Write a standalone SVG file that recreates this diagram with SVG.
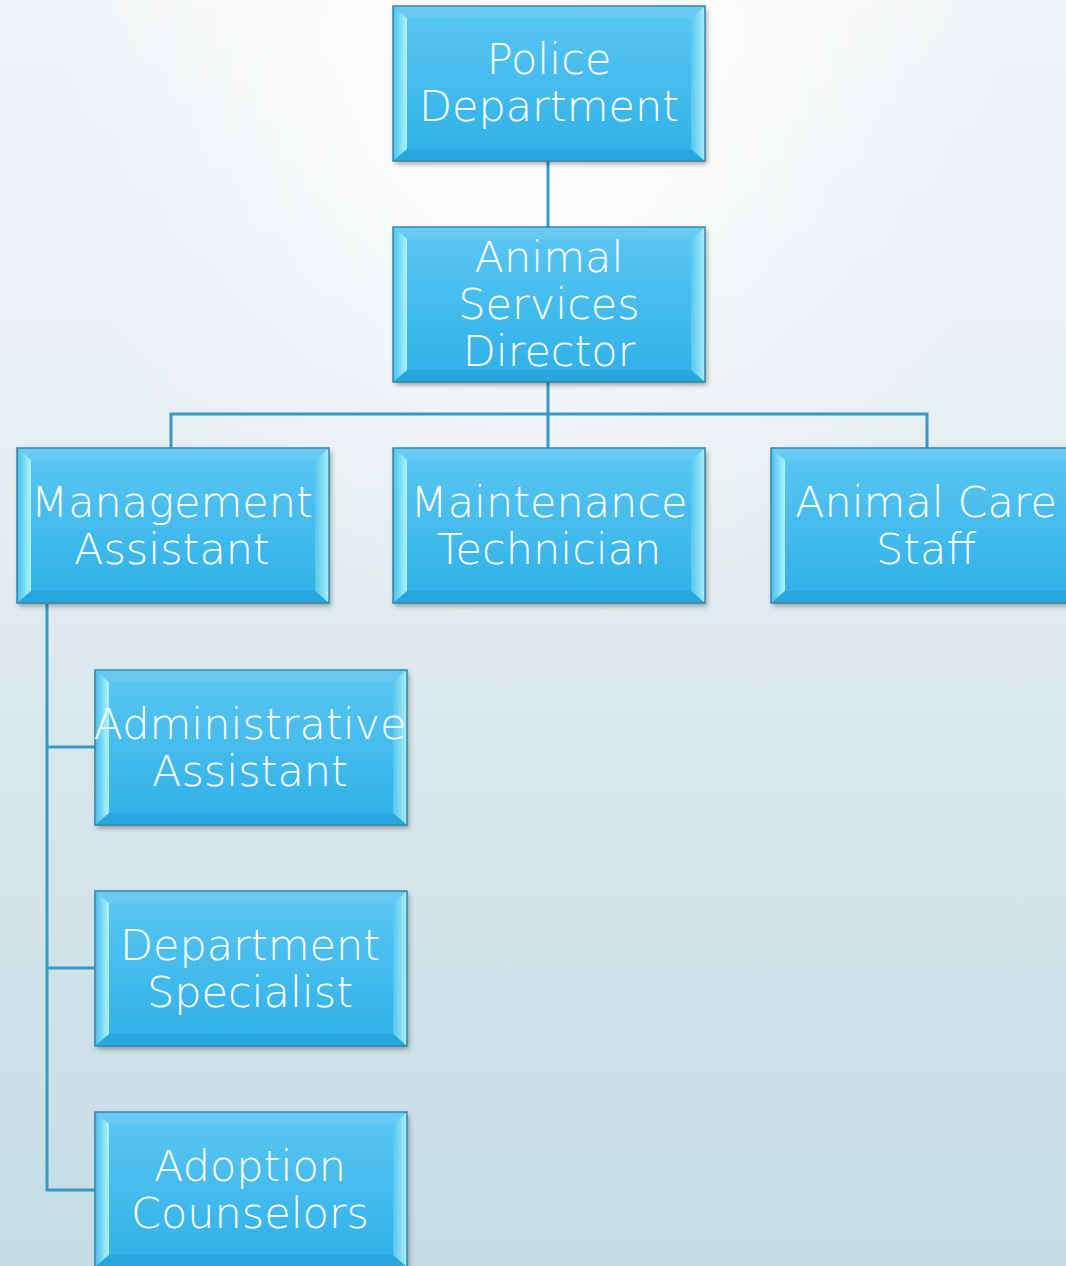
<svg xmlns="http://www.w3.org/2000/svg" xmlns:xlink="http://www.w3.org/1999/xlink" width="1066" height="1266" viewBox="0 0 1066 1266">
  <defs>
    <linearGradient id="bg" x1="0" y1="0" x2="0" y2="1">
      <stop offset="0" stop-color="#f2f5f7"/>
      <stop offset="0.35" stop-color="#e6eef2"/>
      <stop offset="1" stop-color="#c4dce4"/>
    </linearGradient>
    <radialGradient id="bgGlow" cx="0.5" cy="0.05" r="0.45">
      <stop offset="0" stop-color="#ffffff" stop-opacity="1"/>
      <stop offset="1" stop-color="#ffffff" stop-opacity="0"/>
    </radialGradient>
    <linearGradient id="face" x1="0" y1="0" x2="0" y2="1">
      <stop offset="0" stop-color="#5cc7f2"/>
      <stop offset="1" stop-color="#2eb0e8"/>
    </linearGradient>
    <linearGradient id="leftBev" x1="0" y1="0" x2="1" y2="0">
      <stop offset="0" stop-color="#48bdec"/>
      <stop offset="0.7" stop-color="#8ee6fa"/>
      <stop offset="1" stop-color="#b0f4fd"/>
    </linearGradient>
    <linearGradient id="rightBev" x1="0" y1="0" x2="1" y2="0">
      <stop offset="0" stop-color="#58c6f0"/>
      <stop offset="1" stop-color="#a6f0fc"/>
    </linearGradient>
    <filter id="shadow" x="-10%" y="-10%" width="125%" height="130%">
      <feDropShadow dx="2" dy="3" stdDeviation="2.5" flood-color="#000" flood-opacity="0.35"/>
    </filter>
    <g id="box">
      <rect x="0" y="0" width="312" height="155" fill="url(#face)" filter="url(#shadow)"/>
      <polygon points="0,0 312,0 298,12 14,12" fill="#ffffff" opacity="0.08"/>
      <polygon points="0,0 14,12 14,143 0,155" fill="url(#leftBev)"/>
      <polygon points="312,0 312,155 298,143 298,12" fill="url(#rightBev)"/>
      <polygon points="0,155 14,143 298,143 312,155" fill="#1b8fc6" opacity="0.3"/>
      <rect x="0" y="0" width="312" height="155" fill="none" stroke="#3486ac" stroke-width="1.5"/>
    </g>
    <style>
      .lbl { font-family: "DejaVu Sans", "Liberation Sans", sans-serif; font-weight: 200; font-size: 43px; fill: #ffffff; text-anchor: middle; }
      .conn { stroke: #3799c4; stroke-width: 3; fill: none; }
    </style>
  </defs>

  <rect x="0" y="0" width="1066" height="1266" fill="url(#bg)"/>
  <rect x="0" y="0" width="1066" height="1266" fill="url(#bgGlow)"/>

  <g id="connectors">
    <line class="conn" x1="548" y1="161" x2="548" y2="227"/>
    <line class="conn" x1="548" y1="382" x2="548" y2="448"/>
    <polyline class="conn" points="171,448 171,414 927,414 927,448"/>
    <polyline class="conn" points="47,604 47,1190 95,1190"/>
    <line class="conn" x1="47" y1="747" x2="95" y2="747"/>
    <line class="conn" x1="47" y1="968" x2="95" y2="968"/>
  </g>

  <g id="police" transform="translate(393,6)">
    <use xlink:href="#box"/>
    <text class="lbl" x="156" y="68">Police</text>
    <text class="lbl" x="156" y="115">Department</text>
  </g>

  <g id="director" transform="translate(393,227)">
    <use xlink:href="#box"/>
    <text class="lbl" x="156" y="45">Animal</text>
    <text class="lbl" x="156" y="92">Services</text>
    <text class="lbl" x="156" y="139">Director</text>
  </g>

  <g id="management" transform="translate(17,448)">
    <use xlink:href="#box"/>
    <text class="lbl" x="155" y="69">Management</text>
    <text class="lbl" x="155" y="116">Assistant</text>
  </g>

  <g id="maintenance" transform="translate(393,448)">
    <use xlink:href="#box"/>
    <text class="lbl" x="156" y="69">Maintenance</text>
    <text class="lbl" x="156" y="116">Technician</text>
  </g>

  <g id="animalcare" transform="translate(771,448)">
    <use xlink:href="#box"/>
    <text class="lbl" x="155" y="69">Animal Care</text>
    <text class="lbl" x="155" y="116">Staff</text>
  </g>

  <g id="admin" transform="translate(95,670)">
    <use xlink:href="#box"/>
    <text class="lbl" x="155" y="69">Administrative</text>
    <text class="lbl" x="155" y="116">Assistant</text>
  </g>

  <g id="specialist" transform="translate(95,891)">
    <use xlink:href="#box"/>
    <text class="lbl" x="155" y="69">Department</text>
    <text class="lbl" x="155" y="116">Specialist</text>
  </g>

  <g id="adoption" transform="translate(95,1112)">
    <use xlink:href="#box"/>
    <text class="lbl" x="155" y="69">Adoption</text>
    <text class="lbl" x="155" y="116">Counselors</text>
  </g>
</svg>
